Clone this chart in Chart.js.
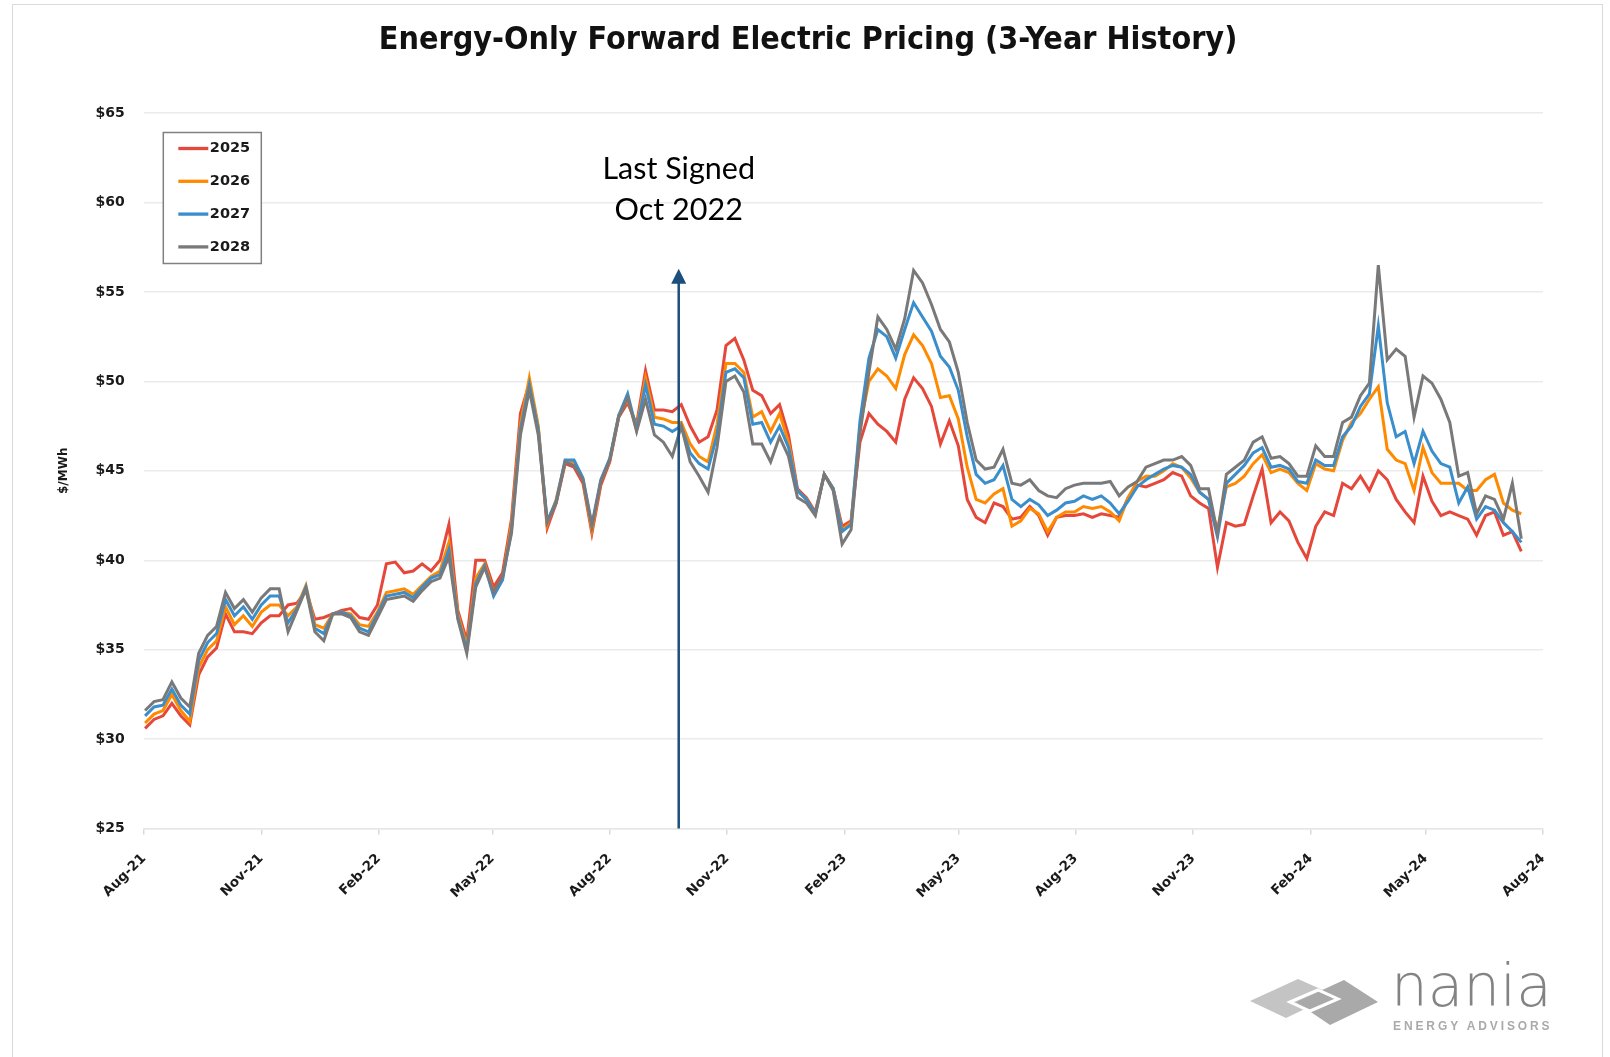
<!DOCTYPE html>
<html>
<head>
<meta charset="utf-8">
<title>Energy-Only Forward Electric Pricing</title>
<script src="https://cdn.jsdelivr.net/npm/chart.js@4.4.1/dist/chart.umd.min.js"></script>
<style>
  html, body { margin: 0; padding: 0; background: #fff; overflow: hidden; }
  #frame { position: absolute; left: 12px; top: 4px; width: 1591px; height: 1100px; border: 1.5px solid #d9d9d9; box-sizing: border-box; }
  #wrap { position: absolute; left: 0; top: 0; width: 1610px; height: 1057px; }
  #logoMark { position: absolute; left: 1250px; top: 972px; }
  #logoName { position: absolute; left: 1391px; top: 957px; font-family: "DejaVu Sans", sans-serif; font-weight: 200; font-size: 58px; line-height: 58px; color: #838383; }
  #logoSub { position: absolute; left: 1393px; top: 1019px; font-family: "Liberation Sans", Arial, sans-serif; font-weight: bold; font-size: 12px; letter-spacing: 2.9px; color: #aaaaaa; }
</style>
</head>
<body>
<div id="frame"></div>
<div id="wrap"><canvas id="priceChart"></canvas></div>
<svg id="logoMark" width="130" height="56" viewBox="0 0 130 56">
  <polygon points="0,29 48,7 84,23 36,46" fill="#c4c4c4"/>
  <polygon points="46,30 94,8 128,30 80,53" fill="#a9a9a9"/>
  <polygon points="40,30 68,18 88,27 60,39" fill="none" stroke="#fff" stroke-width="3"/>
</svg>
<div id="logoName">nania</div>
<div id="logoSub">ENERGY ADVISORS</div>

<script>
// weekly samples
const weekDates = [
  "2021-08-02","2021-08-09","2021-08-16","2021-08-23","2021-08-30","2021-09-06","2021-09-13","2021-09-20","2021-09-27","2021-10-04",
  "2021-10-11","2021-10-18","2021-10-25","2021-11-01","2021-11-08","2021-11-15","2021-11-22","2021-11-29","2021-12-06","2021-12-13",
  "2021-12-20","2021-12-27","2022-01-03","2022-01-10","2022-01-17","2022-01-24","2022-01-31","2022-02-07","2022-02-14","2022-02-21",
  "2022-02-28","2022-03-07","2022-03-14","2022-03-21","2022-03-28","2022-04-04","2022-04-11","2022-04-18","2022-04-25","2022-05-02",
  "2022-05-09","2022-05-16","2022-05-23","2022-05-30","2022-06-06","2022-06-13","2022-06-20","2022-06-27","2022-07-04","2022-07-11",
  "2022-07-18","2022-07-25","2022-08-01","2022-08-08","2022-08-15","2022-08-22","2022-08-29","2022-09-05","2022-09-12","2022-09-19",
  "2022-09-26","2022-10-03","2022-10-10","2022-10-17","2022-10-24","2022-10-31","2022-11-07","2022-11-14","2022-11-21","2022-11-28",
  "2022-12-05","2022-12-12","2022-12-19","2022-12-26","2023-01-02","2023-01-09","2023-01-16","2023-01-23","2023-01-30","2023-02-06",
  "2023-02-13","2023-02-20","2023-02-27","2023-03-06","2023-03-13","2023-03-20","2023-03-27","2023-04-03","2023-04-10","2023-04-17",
  "2023-04-24","2023-05-01","2023-05-08","2023-05-15","2023-05-22","2023-05-29","2023-06-05","2023-06-12","2023-06-19","2023-06-26",
  "2023-07-03","2023-07-10","2023-07-17","2023-07-24","2023-07-31","2023-08-07","2023-08-14","2023-08-21","2023-08-28","2023-09-04",
  "2023-09-11","2023-09-18","2023-09-25","2023-10-02","2023-10-09","2023-10-16","2023-10-23","2023-10-30","2023-11-06","2023-11-13",
  "2023-11-20","2023-11-27","2023-12-04","2023-12-11","2023-12-18","2023-12-25","2024-01-01","2024-01-08","2024-01-15","2024-01-22",
  "2024-01-29","2024-02-05","2024-02-12","2024-02-19","2024-02-26","2024-03-04","2024-03-11","2024-03-18","2024-03-25","2024-04-01",
  "2024-04-08","2024-04-15","2024-04-22","2024-04-29","2024-05-06","2024-05-13","2024-05-20","2024-05-27","2024-06-03","2024-06-10",
  "2024-06-17","2024-06-24","2024-07-01","2024-07-08","2024-07-15"
];

const prices2025 = [
  30.6, 31.1, 31.3, 32.0, 31.3, 30.8, 33.6, 34.6, 35.1, 37.0,
  36.0, 36.0, 35.9, 36.5, 36.9, 36.9, 37.5, 37.6, 38.3, 36.7,
  36.8, 37.0, 37.2, 37.3, 36.8, 36.7, 37.5, 39.8, 39.9, 39.3,
  39.4, 39.8, 39.4, 40.0, 42.0, 37.2, 35.5, 40.0, 40.0, 38.5,
  39.3, 42.3, 48.2, 49.9, 47.4, 41.8, 43.2, 45.4, 45.2, 44.3,
  41.5, 44.2, 45.5, 48.0, 48.8, 47.6, 50.6, 48.4, 48.4, 48.3,
  48.7, 47.5, 46.6, 46.9, 48.4, 52.0, 52.4, 51.2, 49.5, 49.2,
  48.2, 48.7, 47.0, 44.0, 43.5, 42.7, 44.8, 44.0, 41.9, 42.2,
  46.6, 48.2, 47.6, 47.2, 46.6, 49.0, 50.2, 49.6, 48.6, 46.5,
  47.8, 46.4, 43.4, 42.4, 42.1, 43.2, 43.0, 42.3, 42.4, 43.0,
  42.5, 41.4, 42.4, 42.5, 42.5, 42.6, 42.4, 42.6, 42.5, 42.4,
  43.5, 44.2, 44.1, 44.3, 44.5, 44.9, 44.7, 43.6, 43.2, 42.9,
  39.6, 42.1, 41.9, 42.0, 43.6, 45.1, 42.1, 42.7, 42.2, 41.0,
  40.1, 41.9, 42.7, 42.5, 44.3, 44.0, 44.7, 43.9, 45.0, 44.5,
  43.4, 42.7, 42.1, 44.7, 43.3, 42.5, 42.7, 42.5, 42.3, 41.4,
  42.5, 42.7, 41.4, 41.6, 40.5
];

const prices2026 = [
  30.9, 31.4, 31.6, 32.5, 31.6, 31.0, 34.0, 35.0, 35.5, 37.4,
  36.4, 36.9, 36.3, 37.1, 37.5, 37.5, 36.9, 37.4, 38.6, 36.4,
  36.2, 37.0, 37.1, 37.0, 36.4, 36.3, 37.1, 38.2, 38.3, 38.4,
  38.1, 38.6, 39.1, 39.4, 41.0, 37.0, 35.2, 39.0, 39.8, 38.2,
  39.0, 42.0, 47.6, 50.2, 47.5, 42.0, 43.4, 45.5, 45.5, 44.5,
  41.7, 44.4, 45.6, 48.1, 49.0, 47.4, 50.2, 48.0, 47.9, 47.7,
  47.7, 46.5, 45.8, 45.5, 47.6, 51.0, 51.0, 50.5, 48.0, 48.3,
  47.2, 48.2, 46.6, 43.9, 43.4, 42.6, 44.8, 44.0, 41.7, 42.1,
  47.5, 50.0, 50.7, 50.3, 49.6, 51.5, 52.6, 52.0, 51.0, 49.1,
  49.2, 47.9, 45.2, 43.4, 43.2, 43.7, 44.0, 41.9, 42.2, 42.9,
  42.6, 41.6, 42.4, 42.7, 42.7, 43.0, 42.9, 43.0, 42.7, 42.2,
  43.5, 44.4, 44.7, 44.7, 45.0, 45.4, 45.2, 44.6, 43.8, 43.4,
  41.7, 44.1, 44.3, 44.7, 45.4, 45.9, 44.9, 45.1, 44.9, 44.3,
  43.9, 45.4, 45.1, 45.0, 46.7, 47.7, 48.2, 49.0, 49.7, 46.2,
  45.6, 45.4, 43.9, 46.3, 44.9, 44.3, 44.3, 44.3, 43.9, 43.9,
  44.5, 44.8, 43.2, 42.8, 42.6
];

const prices2027 = [
  31.3, 31.8, 31.9, 32.8, 31.9, 31.4, 34.4, 35.4, 35.9, 37.8,
  36.9, 37.4, 36.7, 37.5, 38.0, 38.0, 36.5, 37.3, 38.5, 36.2,
  35.9, 37.0, 37.1, 36.9, 36.2, 36.0, 37.0, 38.0, 38.1, 38.2,
  37.9, 38.5, 39.0, 39.2, 40.6, 36.8, 35.0, 38.7, 39.7, 38.0,
  38.9, 41.7, 47.3, 49.8, 47.3, 42.2, 43.3, 45.6, 45.6, 44.6,
  42.0, 44.5, 45.7, 48.1, 49.3, 47.3, 49.8, 47.6, 47.5, 47.2,
  47.5, 46.0, 45.4, 45.1, 47.0, 50.5, 50.7, 50.2, 47.6, 47.7,
  46.6, 47.5, 46.3, 43.9, 43.4, 42.6, 44.8, 44.0, 41.6, 42.0,
  47.8, 51.3, 52.9, 52.5, 51.3, 52.9, 54.4, 53.6, 52.8, 51.4,
  50.8, 49.5, 46.9, 44.8, 44.3, 44.5, 45.3, 43.4, 43.0, 43.4,
  43.1, 42.5, 42.8, 43.2, 43.3, 43.6, 43.4, 43.6, 43.2, 42.6,
  43.3, 44.1, 44.5, 44.8, 45.1, 45.3, 45.2, 44.8, 43.8, 43.4,
  41.3, 44.3, 44.8, 45.3, 46.0, 46.3, 45.2, 45.3, 45.1, 44.4,
  44.3, 45.6, 45.3, 45.3, 46.9, 47.5, 48.6, 49.3, 53.1, 48.8,
  46.9, 47.2, 45.4, 47.2, 46.1, 45.4, 45.2, 43.2, 44.1, 42.3,
  43.0, 42.8, 42.1, 41.6, 41.0
];

const prices2028 = [
  31.6, 32.1, 32.2, 33.2, 32.3, 31.8, 34.8, 35.8, 36.3, 38.2,
  37.3, 37.8, 37.1, 37.9, 38.4, 38.4, 36.0, 37.2, 38.4, 36.0,
  35.5, 37.0, 37.0, 36.8, 36.0, 35.8, 36.8, 37.8, 37.9, 38.0,
  37.7, 38.3, 38.8, 39.0, 40.2, 36.7, 34.8, 38.5, 39.6, 38.2,
  39.1, 41.5, 47.0, 49.5, 47.0, 42.1, 43.2, 45.5, 45.3, 44.5,
  41.9, 44.4, 45.6, 48.0, 49.1, 47.2, 49.0, 47.0, 46.6, 45.8,
  47.5, 45.5, 44.7, 43.8, 46.3, 50.0, 50.3, 49.4, 46.5, 46.5,
  45.5, 46.9, 45.8, 43.5, 43.2, 42.5, 44.8, 43.9, 40.9, 41.7,
  47.1, 50.5, 53.6, 52.9, 51.8, 53.5, 56.2, 55.5, 54.3, 52.9,
  52.2, 50.5, 47.7, 45.6, 45.1, 45.2, 46.2, 44.3, 44.2, 44.5,
  43.9, 43.6, 43.5, 44.0, 44.2, 44.3, 44.3, 44.3, 44.4, 43.6,
  44.1, 44.4, 45.2, 45.4, 45.6, 45.6, 45.8, 45.3, 44.0, 44.0,
  41.5, 44.8, 45.2, 45.6, 46.6, 46.9, 45.7, 45.8, 45.4, 44.7,
  44.7, 46.4, 45.8, 45.8, 47.7, 48.0, 49.2, 49.9, 56.5, 51.2,
  51.8, 51.4, 48.0, 50.3, 49.9, 49.0, 47.7, 44.7, 44.9, 42.6,
  43.6, 43.4, 42.3, 44.3, 41.2
];

const seriesLabels = ["2025", "2026", "2027", "2028"];
const seriesColors = ["#e5483a", "#ff8a00", "#3a8ecb", "#797979"];

const tickDates = [
  "2021-08-01", "2021-11-01", "2022-02-01", "2022-05-01", "2022-08-01", "2022-11-01", "2023-02-01",
  "2023-05-01", "2023-08-01", "2023-11-01", "2024-02-01", "2024-05-01", "2024-08-01"
];
const tickLabels = [
  "Aug-21", "Nov-21", "Feb-22", "May-22", "Aug-22", "Nov-22", "Feb-23",
  "May-23", "Aug-23", "Nov-23", "Feb-24", "May-24", "Aug-24"
];

const chartTitle = "Energy-Only Forward Electric Pricing (3-Year History)";
const yTitle = "$/MWh";
const signedDate = "2022-09-24";
const signedTip = 56.3;
const signedText = ["Last Signed", "Oct 2022"];

const seriesValues = [prices2025, prices2026, prices2027, prices2028];

const datasets = seriesLabels.map((label, i) => ({
  label: label,
  data: weekDates.map((d, j) => ({ x: Date.parse(d), y: seriesValues[i][j] })),
  borderColor: seriesColors[i],
  backgroundColor: seriesColors[i],
  borderWidth: 3,
  pointRadius: 0,
  tension: 0,
  order: seriesLabels.length - 1 - i, // 2028 ends up on top
}));

// arrow + "Last Signed" note
const signedArrow = {
  id: "signedArrow",
  afterDatasetsDraw(chart) {
    const { ctx, scales } = chart;
    const px = scales.x.getPixelForValue(Date.parse(signedDate));
    const yBottom = scales.y.getPixelForValue(scales.y.min);
    const yTip = scales.y.getPixelForValue(signedTip);
    ctx.save();
    ctx.strokeStyle = "#1b4f7c";
    ctx.fillStyle = "#1b4f7c";
    ctx.lineWidth = 2.5;
    ctx.beginPath();
    ctx.moveTo(px, yBottom);
    ctx.lineTo(px, yTip + 12);
    ctx.stroke();
    ctx.beginPath();
    ctx.moveTo(px, yTip);
    ctx.lineTo(px - 7.5, yTip + 15);
    ctx.lineTo(px + 7.5, yTip + 15);
    ctx.closePath();
    ctx.fill();
    ctx.fillStyle = "#000";
    ctx.font = "30.5px Lato";
    ctx.textAlign = "center";
    ctx.textBaseline = "middle";
    ctx.fillText(signedText[0], px, yTip - 99);
    ctx.fillText(signedText[1], px, yTip - 58);
    ctx.restore();
  }
};

// boxed legend in the top left corner of the plot
const boxLegend = {
  id: "boxLegend",
  afterDraw(chart) {
    const { ctx, chartArea } = chart;
    const left = chartArea.left + 19.5;
    const top = chartArea.top + 19.5;
    ctx.save();
    ctx.fillStyle = "#fff";
    ctx.fillRect(left, top, 98, 131);
    ctx.strokeStyle = "#808080";
    ctx.lineWidth = 1.5;
    ctx.strokeRect(left, top, 98, 131);
    ctx.font = "bold 14.5px 'DejaVu Sans'";
    ctx.textBaseline = "middle";
    chart.data.datasets.forEach((ds, i) => {
      const cy = top + 16 + i * 32.8;
      ctx.strokeStyle = ds.borderColor;
      ctx.lineWidth = 3.3;
      ctx.beginPath();
      ctx.moveTo(left + 15, cy);
      ctx.lineTo(left + 45, cy);
      ctx.stroke();
      ctx.fillStyle = "#1a1a1a";
      ctx.fillText(ds.label, left + 46.5, cy);
    });
    ctx.restore();
  }
};

const ctx = document.getElementById("priceChart");

new Chart(ctx, {
  type: "line",
  data: { datasets: datasets },
  options: {
    responsive: true,
    maintainAspectRatio: false,
    animation: false,
    devicePixelRatio: 1,
    layout: { padding: { left: 73, right: 67, top: 0, bottom: 0 } },
    plugins: {
      legend: { display: false },
      tooltip: { enabled: false },
      title: {
        display: true,
        text: chartTitle,
        color: "#111",
        font: { family: "'Liberation Sans Narrow', 'DejaVu Sans Condensed', sans-serif", size: 32, weight: "bold", lineHeight: 1.2 },
        padding: { top: 21, bottom: 53.6 }
      }
    },
    scales: {
      x: {
        type: "linear",
        min: Date.parse(tickDates[0]),
        max: Date.parse(tickDates[tickDates.length - 1]),
        afterBuildTicks(scale) {
          scale.ticks = tickDates.map(d => ({ value: Date.parse(d) }));
        },
        afterFit(scale) {
          scale.height = 228.4;
        },
        grid: { drawOnChartArea: false, drawTicks: true, tickLength: 6, color: "#d9d9d9", lineWidth: 1.5 },
        border: { display: true, color: "#e6e6e6", width: 1.5 },
        ticks: {
          autoSkip: false,
          minRotation: 45,
          maxRotation: 45,
          padding: 16,
          color: "#1a1a1a",
          font: { family: "'DejaVu Sans'", size: 13.5, weight: "bold" },
          callback: (value, index) => tickLabels[index]
        }
      },
      y: {
        min: 25,
        max: 65,
        afterFit(scale) {
          scale.width = 70.8;
        },
        grid: { color: "#ebebeb", lineWidth: 1.5, drawTicks: false },
        border: { display: false },
        ticks: {
          stepSize: 5,
          padding: 19,
          color: "#1a1a1a",
          font: { family: "'DejaVu Sans'", size: 14, weight: "bold" },
          callback: value => "$" + value
        },
        title: {
          display: true,
          text: yTitle,
          color: "#1a1a1a",
          font: { family: "'DejaVu Sans'", size: 12, weight: "bold", lineHeight: 1.2 },
          padding: { top: -16.2, bottom: 0 }
        }
      }
    }
  },
  plugins: [signedArrow, boxLegend]
});
</script>
</body>
</html>
